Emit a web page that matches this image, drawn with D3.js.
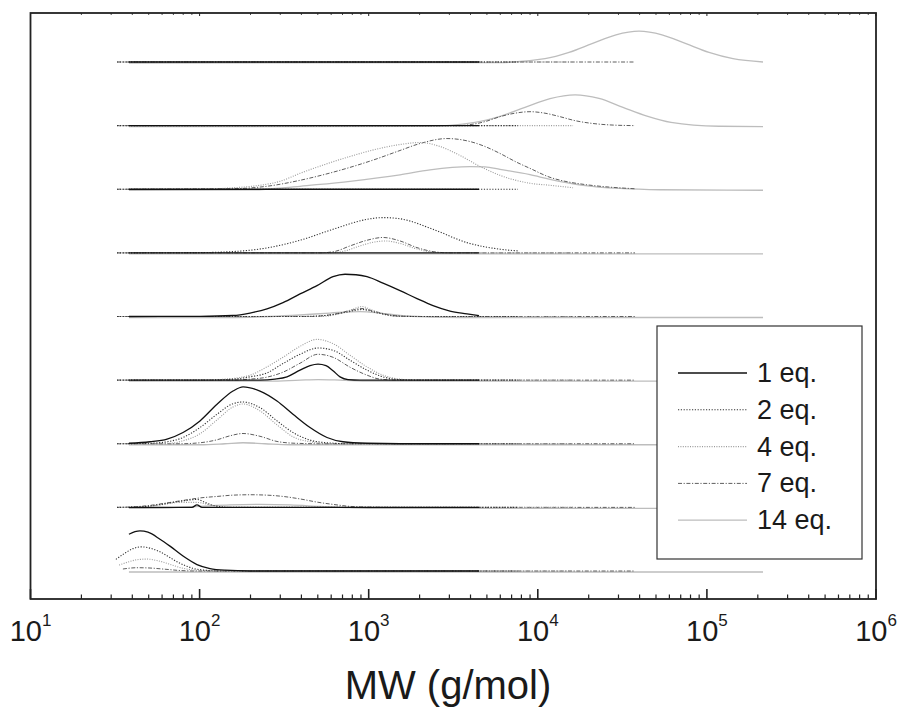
<!DOCTYPE html>
<html>
<head>
<meta charset="utf-8">
<script src="https://cdn.jsdelivr.net/npm/d3@7"></script>
<style>
  html, body { margin: 0; padding: 0; background: #fff; }
  svg { display: block; }
  text { font-family: "Liberation Sans", Arial, sans-serif; fill: #1a1a1a; }
</style>
</head>
<body>
<svg id="chart" width="899" height="709"></svg>
<script>
// ---------------- DATA ----------------
// Series (legend order)
const seriesNames = ["1 eq.", "2 eq.", "4 eq.", "7 eq.", "14 eq."];
// Stacked traces, index 0 = bottom trace ... 8 = top trace
const traceIds = [1, 2, 3, 4, 5, 6, 7, 8, 9];
// Axis ticks
const tickExponents = [1, 2, 3, 4, 5, 6];
const xTitle = "MW (g/mol)";

// Each series: one array per trace, points are [MW (g/mol), intensity (a.u.)]
const eq1 = [
  [[38.2,37],[41.5,39.5],[44.4,40.3],[49.5,39],[58.3,32],[66.8,25],[79.8,15],[96.5,6.5],[115.2,2.5],[141.3,0.8],[198.6,0],[4491,0]],
  [[38.2,0],[90.2,0],[96.5,2.5],[103.3,0],[4491,0]],
  [[38.2,0.5],[50.9,2],[64.2,4.7],[79.8,11.3],[100.5,23],[126.8,39.7],[157.6,53],[180.6,57.3],[227.6,53],[286.9,43],[356.7,29.7],[449.8,16.3],[566.8,6.3],[704.8,2],[977,0.5],[1532,0],[4491,0]],
  [[38.2,0],[227.6,0],[279.2,1],[328.8,3.3],[392.6,10],[449.8,14.5],[501.5,16],[559.1,14.5],[615,9.5],[676.7,3.3],[754.5,0.5],[888.4,0],[4491,0]],
  [[38.2,0],[100.5,0.2],[157.6,1],[198.6,3.5],[250.3,7.7],[311.4,14],[392.6,22.7],[494.8,31],[615,40],[724.3,42.5],[841.3,42],[977,40],[1215,33.5],[1532,26],[1930,18],[2401,11],[3026,5.5],[3813,2.7],[4491,0.8]],
  [[38.2,0],[4491,0]],
  [[38.2,0],[4491,0]],
  [[38.2,0],[4491,0]],
  [[38.2,0],[4491,0]]
];
const eq2 = [
  [[32,11.7],[36.2,18],[40.4,22.5],[45,24.3],[50.9,23],[58.3,19.3],[66.8,13.5],[73.5,9.3],[82,5.5],[91.4,2.7],[107.6,0.8],[132,0],[7637,0]],
  [[32.5,0],[44.4,0.5],[54.5,2],[66.8,4.5],[79.8,6.5],[96.5,8],[107.6,5],[123.4,1.5],[151.3,0],[7637,0]],
  [[32.5,0],[50.9,0.5],[64.2,2],[79.8,6.3],[100.5,16.3],[126.8,29.7],[157.6,40.3],[180.6,42],[227.6,36.3],[286.9,23],[356.7,11.3],[449.8,3.7],[566.8,1],[775.3,0],[7637,0]],
  [[32.5,0],[100.5,0],[157.6,1],[198.6,3.3],[250.3,7.3],[311.4,16.7],[392.6,26],[501.5,32.3],[615,30],[775.3,20],[977,10],[1215,3.3],[1532,0.5],[2011,0],[7637,0]],
  [[32.5,0],[392.6,0],[590.4,1.5],[724.3,4],[912.9,7],[1135,3.5],[1431,0.5],[2011,0],[7637,0]],
  [[32.5,0],[100.5,0.3],[180.6,2],[250.3,5],[392.6,12.7],[615,23.7],[977,33.7],[1215,35.5],[1532,34.3],[2401,23.7],[3813,10.3],[5977,3.7],[7637,2]],
  [[32.5,0],[7637,0]],
  [[32.5,0],[7637,0]],
  [[32.5,0],[7637,0]]
];
const eq4 = [
  [[33.4,6],[37.7,9],[42.6,11.3],[48.9,12],[56,10.5],[64.2,7.7],[71.5,5],[79.8,2.7],[90.2,1.2],[107.6,0.3],[132,0],[16160,0]],
  [[33.4,0],[44.4,0.5],[58.3,2.5],[76.6,5],[96.5,5],[115.2,2.5],[141.3,0.5],[173.4,0],[16160,0]],
  [[33.4,0],[66.8,0.5],[79.8,3],[100.5,10],[126.8,24],[157.6,37],[180.6,40],[227.6,33],[286.9,19],[356.7,7],[449.8,2],[590.4,0],[16160,0]],
  [[33.4,0],[100.5,0],[141.3,1],[198.6,5],[250.3,13.3],[311.4,23],[392.6,34],[494.8,41],[615,36.7],[775.3,25],[977,13.3],[1215,5],[1532,1],[2011,0],[16160,0]],
  [[33.4,0],[515.2,0],[676.7,3],[796.7,7],[912.9,10],[1046,6.5],[1249,2],[1532,0],[16160,0]],
  [[33.4,0],[590.4,0],[724.3,2],[888.4,7],[1090,11],[1249,12],[1532,9.5],[1878,4.5],[2305,1],[2827,0],[16160,0]],
  [[33.4,0],[100.5,0],[157.6,1.5],[227.6,4],[298.9,8],[392.6,16],[551.5,25],[775.3,33],[1090,40],[1532,45],[2011,47],[2641,43],[3466,34],[4552,23],[5977,14],[8994,6],[11810,4],[16160,1.5]],
  [[33.4,0],[16160,0]],
  [[33.4,0],[16160,0]]
];
const eq7 = [
  [[35.2,2],[42.6,3.3],[50.9,3],[62.4,1.8],[76.6,0.5],[93.9,0],[37560,0]],
  [[32.5,0],[40.4,0.5],[50.9,2],[64.2,4.5],[79.8,7],[100.5,9.5],[126.8,11],[157.6,12.3],[198.6,12.7],[250.3,12.3],[311.4,11],[392.6,8.5],[494.8,5.3],[615,3],[775.3,1],[977,0.3],[1532,0],[37560,0]],
  [[32.5,0],[76.6,0],[100.5,1],[126.8,4],[151.3,8],[180.6,10.3],[227.6,7.5],[286.9,2.3],[366.6,0.5],[515.2,0],[37560,0]],
  [[32.5,0],[151.3,0],[198.6,1],[250.3,3],[311.4,8],[392.6,17],[501.5,26],[615,23],[775.3,13],[977,5],[1166,1],[1532,0],[37560,0]],
  [[32.5,0],[449.8,0],[631.9,2.5],[775.3,6],[912.9,8],[1090,5],[1337,1.5],[1755,0],[37560,0]],
  [[32.5,0],[515.2,0],[631.9,1.5],[775.3,7],[977,12.7],[1215,15.5],[1532,12],[1930,5.3],[2401,1.3],[3026,0],[37560,0]],
  [[32.5,0],[151.3,0.5],[250.3,3],[392.6,9],[551.5,15],[775.3,22],[1090,30],[1532,39],[2011,46],[2905,51],[3972,48],[4873,43],[5977,36],[7534,27],[8994,21],[11810,12],[14490,8],[18510,5],[23330,3],[37560,0.5]],
  [[32.5,0],[3466,0],[3972,1],[4873,4],[5977,9],[7331,12.5],[8994,14],[11030,12.5],[13530,9],[16600,5],[20360,2.5],[26730,0.7],[37560,0]],
  [[32.5,0],[37560,0]]
];
const eq14 = [
  [[38.2,0],[214700,0]],
  [[38.2,0],[66.8,0.5],[100.5,2],[151.3,3.5],[227.6,4],[342.4,3.5],[515.2,2],[775.3,0.7],[1166,0],[214700,0]],
  [[38.2,0],[100.5,0],[141.3,1],[180.6,2],[243.7,1],[342.4,0],[214700,0]],
  [[38.2,0],[260.9,0],[392.6,1],[501.5,1.5],[676.7,1],[1018,0],[214700,0]],
  [[38.2,0],[151.3,0],[260.9,1],[392.6,2.5],[590.4,4.5],[888.4,6],[1166,4.5],[1532,2],[2305,0.5],[3466,0],[214700,0]],
  [[38.2,0],[214700,0]],
  [[38.2,0],[198.6,0.3],[298.9,2],[392.6,4],[775.3,9],[1532,15.5],[2305,20.5],[3972,23.7],[4873,23.5],[5977,21],[8994,15.7],[11810,11],[18510,5],[30620,1.8],[52800,0.5],[214700,0]],
  [[38.2,0],[2153,0.35],[4253,4.3],[5977,10.4],[8402,19.4],[11810,28.2],[16600,32],[23010,28.4],[31900,19.4],[44230,10.6],[61340,4.3],[117900,0.4],[214700,0]],
  [[38.2,0],[5817,0.4],[11030,4.3],[15300,10.6],[20920,19.4],[29000,28.4],[39670,32],[54260,28.4],[75220,19.4],[102900,10.6],[142700,4.3],[214700,1]]
];
const seriesData = [eq1, eq2, eq4, eq7, eq14];

// ---------------- STYLE / LAYOUT ----------------
const styles = [
  { color: "#111111", dash: null,            width: 1.3, dy: 0 },
  { color: "#333333", dash: "1.2,1.6",       width: 1.1, dy: 0 },
  { color: "#9a9a9a", dash: "1,1.4",         width: 1.1, dy: 0 },
  { color: "#5e5e5e", dash: "4,1.6,1.2,1.6", width: 1.0, dy: 0 },
  { color: "#bdbdbd", dash: null,            width: 1.3, dy: 1 }
];
const traceStep = 64; // intensity units between stacked traces

const svg = d3.select("#chart");
const plotL = 30.5, plotR = 876, plotT = 13, plotB = 599;

const x = d3.scaleLog().domain([10, 1e6]).range([plotL, plotR]);
const y = d3.scaleLinear().domain([0, 8 * traceStep]).range([571, 62]);

// traces: draw lighter series first
const gLines = svg.append("g");
for (let s = seriesData.length - 1; s >= 0; s--) {
  const st = styles[s];
  seriesData[s].forEach((pts, k) => {
    const line = d3.line()
      .curve(d3.curveMonotoneX)
      .x(d => x(d[0]))
      .y(d => y(k * traceStep + d[1]) + st.dy);
    gLines.append("path")
      .attr("d", line(pts))
      .attr("fill", "none")
      .attr("stroke", st.color)
      .attr("stroke-width", st.width)
      .attr("stroke-dasharray", st.dash);
  });
}

// frame
svg.append("rect")
  .attr("x", plotL).attr("y", plotT)
  .attr("width", plotR - plotL).attr("height", plotB - plotT)
  .attr("fill", "none").attr("stroke", "#222").attr("stroke-width", 1.8);

// ticks (inward, bottom and top)
const majors = tickExponents.map(e => Math.pow(10, e));
const minors = [];
for (let e = 1; e < 6; e++) for (let m = 2; m <= 9; m++) minors.push(m * Math.pow(10, e));
const gT = svg.append("g").attr("stroke", "#222");
majors.forEach(v => {
  gT.append("line").attr("x1", x(v)).attr("x2", x(v)).attr("y1", plotB).attr("y2", plotB - 10).attr("stroke-width", 1.6);
  gT.append("line").attr("x1", x(v)).attr("x2", x(v)).attr("y1", plotT).attr("y2", plotT + 3).attr("stroke-width", 1);
});
minors.forEach(v => {
  gT.append("line").attr("x1", x(v)).attr("x2", x(v)).attr("y1", plotB).attr("y2", plotB - 4.5).attr("stroke-width", 1.2);
  gT.append("line").attr("x1", x(v)).attr("x2", x(v)).attr("y1", plotT).attr("y2", plotT + 2).attr("stroke-width", 0.8);
});

// tick labels: 10^n
tickExponents.forEach(e => {
  const t = svg.append("text")
    .attr("x", x(Math.pow(10, e)))
    .attr("y", 641)
    .attr("text-anchor", "middle")
    .style("font-size", "29px");
  t.append("tspan").text("10");
  t.append("tspan").attr("dy", -15).style("font-size", "17px").text(String(e));
});

// axis title
svg.append("text")
  .attr("x", 448).attr("y", 699)
  .attr("text-anchor", "middle")
  .style("font-size", "40px")
  .text(xTitle);

// legend
const lg = svg.append("g");
lg.append("rect").attr("x", 657).attr("y", 326).attr("width", 205).attr("height", 233)
  .attr("fill", "#fff").attr("stroke", "#333").attr("stroke-width", 1.2);
seriesNames.forEach((name, i) => {
  const cy = 373 + i * 36.8;
  const st = styles[i];
  lg.append("line").attr("x1", 678).attr("x2", 747).attr("y1", cy).attr("y2", cy)
    .attr("stroke", st.color).attr("stroke-width", st.width).attr("stroke-dasharray", st.dash);
  lg.append("text").attr("x", 757).attr("y", cy + 9)
    .style("font-size", "27px").text(name);
});
</script>
</body>
</html>
